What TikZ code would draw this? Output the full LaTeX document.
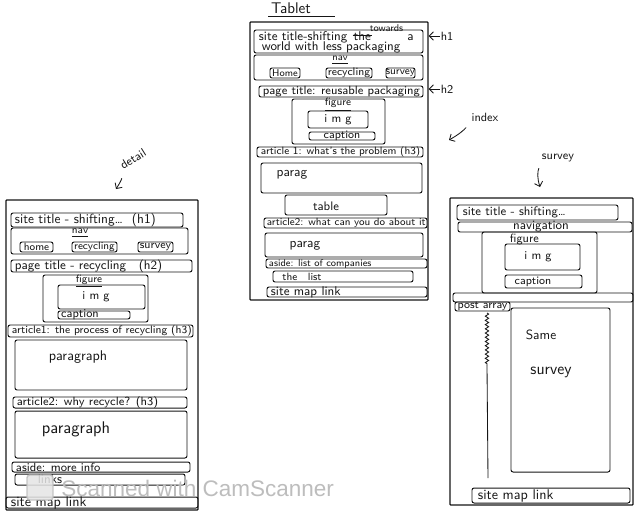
\documentclass[tikz,border=0pt]{standalone}
\usepackage{fontspec}
\usepackage{tikz}
\usetikzlibrary{arrows.meta,positioning,fit,decorations.pathmorphing}
\newfontfamily\scanfont{Liberation Sans}
\definecolor{ink}{HTML}{161616}
\definecolor{wmark}{HTML}{BDBDBD}

\begin{document}
\begin{tikzpicture}[x=0.025cm,y=-0.025cm,
                    bx/.style={draw=ink,line width=0.7pt,rounded corners=1.5pt,inner sep=0pt},
                    fr/.style={bx,line width=0.9pt,rounded corners=0.5pt},
                    tx/.style={font=\sffamily\fontsize{#1}{#1}\selectfont,color=ink,inner sep=0.5pt},
                    tx/.default=7.5,
                    pt/.style={-{Straight Barb[length=3pt]},draw=ink,line width=0.6pt}]
  \fill[white] (0,0) rectangle (640,522);
  \useasboundingbox (0,0) rectangle (640,522);
  % tablet (index)
  \node[tx=11,inner sep=0pt] (ttitle) at (291,8) {Tablet};
  \draw[ink,line width=0.7pt] (268,16) -- (335,16);
  \node[fr,fit={(250,22)(428,300)}] (tab) {};
  \node[bx,fit={(254,30)(423,53)}] (th1) {};
  \node[tx=9,anchor=base west] (th1a) at (258,40) {site title-shifting};
  \node[tx=9,right=3pt of th1a.base east,anchor=base west] (tthe) {the};
  \draw[ink,line width=0.6pt] (tthe.west) -- (tthe.east);
  \node[tx=7,anchor=south west,xshift=-2pt,yshift=-2pt] (ttow) at (tthe.north east) {towards};
  \node[tx=9,right=1.5pt of ttow.south east |- th1a.base,anchor=base west] (tta) {a};
  \node[tx=9,anchor=base west] (th1b) at (261,50.5) {world with less packaging};
  \node[tx=8.5] (h1n) at (447,36) {h1};
  \draw[pt] (h1n) -- (tab.east |- h1n);
  \node[bx,fit={(254,55)(423,80)}] (tnav) {};
  \node[tx=7] at (340,60) {\underline{nav}};
  \node[bx,fit={(270,68)(300,78)}] (thome) {};
  \node[tx=7] at (thome) {Home};
  \node[bx,fit={(326,68)(372,78)}] (trec) {};
  \node[tx=7.8] at (trec) {recycling};
  \node[bx,fit={(386,68)(415,78)}] (tsur) {};
  \node[tx=7.5] at (tsur) {survey};
  \node[bx,fit={(259,86)(423,97)}] (th2) {};
  \node[tx=8.4,anchor=west] at (262,91.5) {page title: reusable packaging};
  \node[tx=8.5] (h2n) at (447,89) {h2};
  \draw[pt] (h2n) -- (tab.east |- h2n);
  \node[bx,fit={(292,99)(385,144)}] (tfig) {};
  \node[tx=7.5] at (338,104.5) {\underline{figure}};
  \node[bx,fit={(308,111)(368,128)}] (timg) {};
  \node[tx=8.5] at (timg) {i m g};
  \node[bx,fit={(309,132)(375,140)}] (tcap) {};
  \node[tx=8] at (tcap) {caption};
  \node[bx,fit={(257,147)(423,157)}] (tart1) {};
  \node[tx=7.5,anchor=west] at (260,152) {article 1: what's the problem (h3)};
  \node[bx,fit={(261,163)(422,193)}] (tpar1) {};
  \node[tx=9.5] at (292,175) {parag};
  \node[bx,fit={(285,195)(387,215)}] (ttab) {};
  \node[tx=8.8] at (326,206) {table};
  \node[bx,fit={(264,218)(427,228)}] (tart2) {};
  \node[tx=7.4,anchor=west] at (266,223) {article2: what can you do about it};
  \node[bx,fit={(265,233)(423,257)}] (tpar2) {};
  \node[tx=9.5] at (305,246) {parag};
  \node[bx,fit={(266,259)(427,268)}] (taside) {};
  \node[tx=7,anchor=west] at (268,263.5) {aside: list of companies};
  \node[bx,fit={(273,271)(413,282)}] (tlist) {};
  \node[tx=7.5] at (302,276.5) {the\quad list};
  \node[bx,fit={(267,287)(427,297)}] (tmap) {};
  \node[tx=9,anchor=west] at (270,292) {site map link};
  \node[tx=8.5] (idx) at (485,117) {index};
  \coordinate (idxtip) at (449,140);
  \draw[pt,shorten <=5pt] (idx.south west) to[bend left=10] (idxtip);
  % desktop (detail)
  \node[tx=8.5,rotate=32] (dlab) at (133,159) {detail};
  \coordinate (dtip) at (116,189);
  \draw[pt,shorten <=5pt] (dlab.south west) to[bend left=12] (dtip);
  \node[fr,fit={(6,200)(198,510)}] (det) {};
  \node[bx,fit={(11,213)(183,227)}] (dh1) {};
  \node[tx=9.5,anchor=west] at (14,220) {site title - shifting\dots\ \ (h1)};
  \node[bx,fit={(11,228)(188,254)}] (dnav) {};
  \node[tx=7.5] at (80,233) {\underline{nav}};
  \node[bx,fit={(20,242)(53,252)}] (dhome) {};
  \node[tx=7.5] at (dhome) {home};
  \node[bx,fit={(72,242)(117,252)}] (drec) {};
  \node[tx=7.5] at (drec) {recycling};
  \node[bx,fit={(138,242)(173,252)}] (dsur) {};
  \node[tx=8] at (dsur) {survey};
  \node[bx,fit={(11,260)(192,272)}] (dh2) {};
  \node[tx=9,anchor=west] at (14,266) {page title - recycling\quad(h2)};
  \node[bx,fit={(43,275)(148,322)}] (dfig) {};
  \node[tx=7.5] at (89,281) {\underline{figure}};
  \node[bx,fit={(58,285)(145,309)}] (dimg) {};
  \node[tx=8.5] at (96,297) {i m g};
  \node[bx,fit={(58,311)(130,319)}] (dcap) {};
  \node[tx=8.5] at (80,315) {caption};
  \node[bx,fit={(8,325)(193,337)}] (dart1) {};
  \node[tx=7.7,anchor=west] at (11,331) {article1: the process of recycling (h3)};
  \node[bx,fit={(15,340)(187,390)}] (dpar1) {};
  \node[tx=10] at (78,357) {paragraph};
  \node[bx,fit={(13,397)(187,408)}] (dart2) {};
  \node[tx=8.4,anchor=west] at (16,402.5) {article2: why recycle? (h3)};
  \node[bx,fit={(15,411)(187,458)}] (dpar2) {};
  \node[tx=12] at (76,429) {paragraph};
  \node[bx,fit={(12,462)(190,472)}] (daside) {};
  \node[tx=8.4,anchor=west] at (15,467) {aside: more info};
  \node[bx,fit={(15,474)(185,485)}] (dlinks) {};
  \node[tx=9] at (50,479.5) {links};
  \node[bx,fit={(6,497)(198,508)}] (dmap) {};
  \node[tx=10,anchor=west] at (10,502.5) {site map link};
  % desktop (survey)
  \node[tx=8.5] (slab) at (558,158) {survey};
  \coordinate (stip) at (540,187);
  \draw[pt,shorten <=4pt] (slab.south west) to[bend right=20] (stip);
  \node[fr,fit={(450,198)(633,505)}] (sur) {};
  \node[bx,fit={(457,205)(618,220)}] (sh1) {};
  \node[tx=8.8,anchor=west] at (462,212) {site title - shifting\dots};
  \node[bx,fit={(458,222)(632,232)}] (snav) {};
  \node[tx=9] at (541,226.5) {navigation};
  \node[bx,fit={(482,232)(597,293)}] (sfig) {};
  \node[tx=8.5,anchor=west] at (509,239.5) {figure};
  \node[bx,fit={(505,244)(580,270)}] (simg) {};
  \node[tx=8.5] at (538,257) {i m g};
  \node[bx,fit={(505,275)(582,288)}] (scap) {};
  \node[tx=8] at (533,281.5) {caption};
  \node[bx,fit={(453,293)(633,302)}] (sstrip) {};
  \node[bx,fit={(455,302)(510,311)}] (spost) {};
  \node[tx=8] at (spost) {post array};
  \draw[ink,line width=0.6pt,decorate,decoration={zigzag,amplitude=1.2pt,segment length=3pt}] (487,313) -- (487,365);
  \draw[ink,line width=0.6pt] (487,365) -- (488,478);
  \node[bx,fit={(511,308)(610,472)}] (sform) {};
  \node[tx=9.5] at (541,335) {Same};
  \node[tx=11.5] at (551,372) {survey};
  \node[bx,fit={(472,488)(630,503)}] (smap) {};
  \node[tx=10,anchor=west] at (477,495.5) {site map link};
  % scanner mark
  \node[draw=wmark,fill=wmark!40,line width=1pt,rounded corners=2pt,inner sep=0pt,opacity=0.85,fit={(27,475)(53,500)}] (csicon) {};
  \node[font=\scanfont\fontsize{16}{18}\selectfont,color=wmark,anchor=west,inner sep=0pt] (cstext) at (61,488) {Scanned with CamScanner};
\end{tikzpicture}
\end{document}
